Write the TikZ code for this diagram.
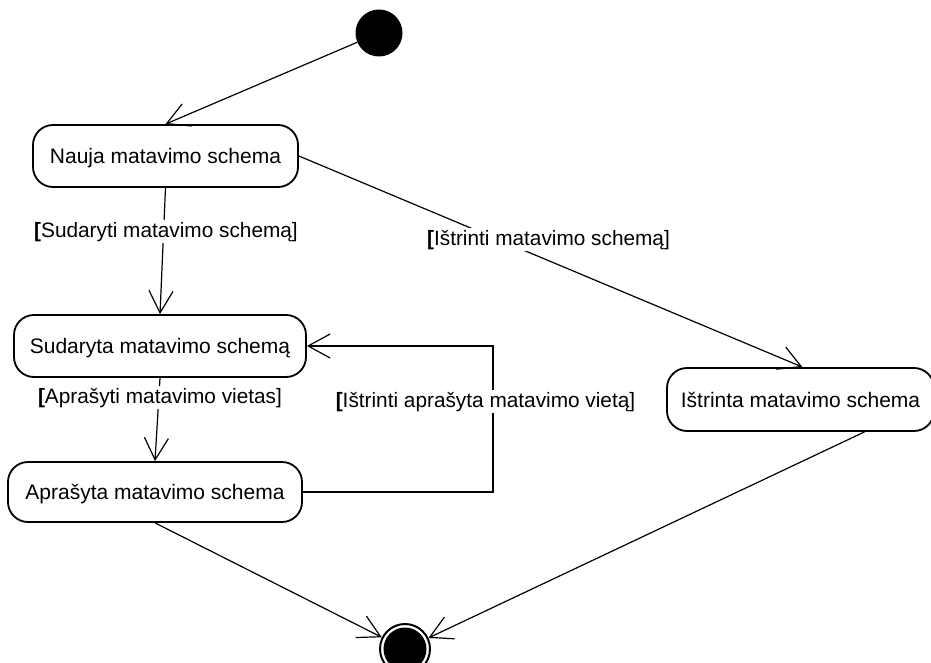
\documentclass[tikz,border=0pt]{standalone}
\usepackage{fontspec}
\setmainfont{Liberation Sans}
\usetikzlibrary{arrows.meta}
\begin{document}
\begin{tikzpicture}[x=1pt,y=-1pt,
  state/.style={draw, line width=1.8pt, rounded corners=20pt, inner sep=0pt,
    text height=15pt, text depth=0pt, font=\fontsize{21}{24}\selectfont},
  flow/.style={line width=1.2pt, -{Straight Barb[length=22pt,width=24pt]}},
  guard/.style={fill=white, inner sep=1.5pt, anchor=base,
    font=\fontsize{20.8}{24}\selectfont},
]
\useasboundingbox (0,0) rectangle (931,663);

% initial and final pseudo-states
\node[circle, fill=black, minimum size=47pt, inner sep=0pt] (start) at (379,33) {};
\node[circle, draw, line width=2pt, minimum size=50pt, inner sep=0pt] (end) at (405,649) {};
\fill (end.center) circle (21.5pt);

% states
\node[state, minimum width=265pt, minimum height=62pt] (nauja) at (165.5,156) {Nauja matavimo schema};
\node[state, minimum width=292pt, minimum height=62pt] (sud) at (160,346) {Sudaryta matavimo schemą};
\node[state, minimum width=294pt, minimum height=60pt] (apr) at (155,492) {Aprašyta matavimo schema};
\node[state, minimum width=267pt, minimum height=63pt] (ist) at (800.5,399.5) {Ištrinta matavimo schema};

% transitions
\draw[flow] (start) -- (nauja.north);
\draw[flow] (nauja.south) -- (sud.north);
\draw[flow] (nauja.east) -- ([xshift=2pt]ist.north);
\draw[flow] (sud.south) -- (apr.north);
\draw[flow] (apr.east) -- ++(190,0) |- (sud.east);
\draw[flow] (apr.south) -- (end);
\draw[flow] ([xshift=64pt]ist.south) -- (end);

% guards
\node[guard] (g1) at (166,237) {\textbf{[}Sudaryti matavimo schemą]};
\node[guard] (g2) at (548.5,245) {\textbf{[}Ištrinti matavimo schemą]};
\node[guard] (g3) at (160,403) {\textbf{[}Aprašyti matavimo vietas]};
\node[guard] (g4) at (485.5,407) {\textbf{[}Ištrinti aprašyta matavimo vietą]};
\end{tikzpicture}
\end{document}
